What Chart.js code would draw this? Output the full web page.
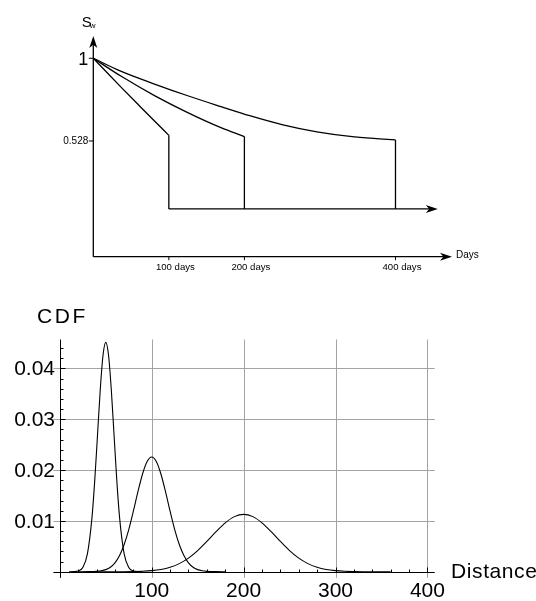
<!DOCTYPE html>
<html>
<head>
<meta charset="utf-8">
<script src="https://cdn.jsdelivr.net/npm/chart.js@4/dist/chart.umd.min.js"></script>
<style>
  html, body { margin: 0; padding: 0; background: #fff; width: 536px; height: 601px; overflow: hidden; }
  #top { position: absolute; left: 0; top: 0; width: 536px; height: 290px; }
  #bottom { position: absolute; left: 0; top: 290px; width: 536px; height: 311px; }
</style>
</head>
<body>
<div id="top"><canvas id="sw"></canvas></div>
<div id="bottom"><canvas id="cdf"></canvas></div>
<script>
// ---- Water saturation decline for three durations (days, S_w) ----
const swDays100 = [0, 37, 63.5, 81, 100];
const swVals100 = [1, 0.834, 0.718, 0.642, 0.56];
const swDays200 = [0, 37, 81, 125, 169, 200];
const swVals200 = [1, 0.897, 0.787, 0.690, 0.604, 0.553];
const swDays400 = [0, 37, 81, 125, 169, 207, 251, 296, 340, 384, 400];
const swVals400 = [1, 0.925, 0.853, 0.786, 0.724, 0.672, 0.620, 0.580, 0.554, 0.539, 0.534];
const swFloor = 0.14;          // level after each drop
const swFloorEnd = 456;        // floor line runs out to here (days)
const swTickDays = [100, 200, 400];
const swTickDayLabels = ['100 days', '200 days', '400 days'];
const swTickValues = [0.528, 1];
const swTickValueLabels = ['0.528', '1'];

// ---- Distance distributions ----
const distA = [10, 15, 20, 25, 30, 35, 38, 41, 44, 47, 50, 53, 56, 59, 62, 65, 70, 75, 80, 85, 90];
const cdfA  = [0, 0.00002, 0.00014, 0.00083, 0.00349, 0.0107, 0.01797, 0.02689, 0.03586, 0.04261, 0.04514,
               0.04261, 0.03586, 0.02689, 0.01797, 0.0107, 0.00349, 0.00083, 0.00014, 0.00002, 0];
const distB = [20, 30, 40, 45, 50, 55, 60, 65, 70, 75, 80, 85, 90, 95, 100, 105, 110, 115, 120, 125, 130,
               135, 140, 145, 150, 155, 160, 170, 180];
const cdfB  = [0, 0.00001, 0.00007, 0.00018, 0.00041, 0.00088, 0.00175, 0.00318, 0.00535, 0.0083, 0.0119,
               0.01575, 0.01923, 0.02168, 0.02257, 0.02168, 0.01923, 0.01575, 0.0119, 0.0083, 0.00535,
               0.00318, 0.00175, 0.00088, 0.00041, 0.00018, 0.00007, 0.00001, 0];
const distC = [40, 60, 80, 90, 100, 110, 120, 130, 140, 150, 160, 170, 180, 190, 200, 210, 220, 230, 240,
               250, 260, 270, 280, 290, 300, 310, 320, 340, 360];
const cdfC  = [0, 0, 0.00004, 0.00009, 0.00021, 0.00044, 0.00087, 0.00159, 0.00267, 0.00415, 0.00595,
               0.00787, 0.00961, 0.01084, 0.01128, 0.01084, 0.00961, 0.00787, 0.00595, 0.00415, 0.00267,
               0.00159, 0.00087, 0.00044, 0.00021, 0.00009, 0.00004, 0, 0];
const distTicks = [100, 200, 300, 400];
const distTickLabels = ['100', '200', '300', '400'];
const cdfTicks = [0.01, 0.02, 0.03, 0.04];
const cdfTickLabels = ['0.01', '0.02', '0.03', '0.04'];

const FONT = '"Liberation Sans", Arial, Helvetica, sans-serif';

function pts(xs, ys) { return xs.map((x, i) => ({ x: x, y: ys[i] })); }

function arrowHead(ctx, tipX, tipY, dx, dy, len, half) {
  const bx = tipX - dx * len, by = tipY - dy * len;
  const nx = -dy, ny = dx;
  const mx = tipX - dx * len * 0.72, my = tipY - dy * len * 0.72;
  ctx.beginPath();
  ctx.moveTo(tipX, tipY);
  ctx.lineTo(bx + nx * half, by + ny * half);
  ctx.lineTo(mx, my);
  ctx.lineTo(bx - nx * half, by - ny * half);
  ctx.closePath();
  ctx.fill();
}

const curveStyle = {
  borderColor: '#000', borderWidth: 1.3, pointRadius: 0, showLine: true,
  cubicInterpolationMode: 'monotone', clip: false
};
const straightStyle = {
  borderColor: '#000', borderWidth: 1.3, pointRadius: 0, showLine: true, tension: 0, clip: false
};

function last(a) { return a[a.length - 1]; }

// ---------------- S_w chart ----------------
const swAxes = {
  id: 'swAxes',
  afterDatasetsDraw(chart) {
    const ctx = chart.ctx, a = chart.chartArea;
    const xs = chart.scales.x, ys = chart.scales.y;
    ctx.save();
    ctx.strokeStyle = '#000';
    ctx.fillStyle = '#000';
    ctx.lineWidth = 1.3;
    // axes
    ctx.beginPath();
    ctx.moveTo(a.left, a.bottom);
    ctx.lineTo(a.right - 6, a.bottom);
    ctx.moveTo(a.left, a.bottom);
    ctx.lineTo(a.left, a.top + 6);
    ctx.stroke();
    arrowHead(ctx, a.right, a.bottom, 1, 0, 12, 4);
    arrowHead(ctx, a.left, a.top, 0, -1, 12, 4);
    // arrow on the floor line
    arrowHead(ctx, xs.getPixelForValue(swFloorEnd), ys.getPixelForValue(swFloor), 1, 0, 12, 4);

    // ticks
    ctx.lineWidth = 1;
    ctx.beginPath();
    swTickValues.forEach(v => {
      const y = ys.getPixelForValue(v);
      ctx.moveTo(a.left - 4.5, y); ctx.lineTo(a.left, y);
    });
    swTickDays.forEach(d => {
      const x = xs.getPixelForValue(d);
      ctx.moveTo(x, a.bottom); ctx.lineTo(x, a.bottom + 3.5);
    });
    ctx.stroke();

    // labels
    ctx.textBaseline = 'middle';
    ctx.textAlign = 'right';
    swTickValues.forEach((v, i) => {
      const y = ys.getPixelForValue(v);
      ctx.font = (v === 1 ? '18px ' : '10px ') + FONT;
      ctx.fillText(swTickValueLabels[i], a.left - 5, y + (v === 1 ? 1.5 : 0.5));
    });
    ctx.textAlign = 'center';
    ctx.font = '9.6px ' + FONT;
    swTickDays.forEach((d, i) => {
      ctx.fillText(swTickDayLabels[i], xs.getPixelForValue(d) + 6.5, a.bottom + 10.5);
    });
    ctx.textAlign = 'left';
    ctx.font = '10px ' + FONT;
    ctx.fillText('Days', a.right + 4, a.bottom - 1.5);
    // S_w
    ctx.textBaseline = 'alphabetic';
    ctx.font = '15px ' + FONT;
    ctx.fillText('S', a.left - 11.5, a.top - 9.5);
    ctx.font = '8px ' + FONT;
    ctx.fillText('w', a.left - 3.5, a.top - 8.5);
    ctx.restore();
  }
};

new Chart(document.getElementById('sw'), {
  type: 'scatter',
  data: {
    datasets: [
      Object.assign({ data: pts(swDays100, swVals100) }, curveStyle),
      Object.assign({ data: pts(swDays200, swVals200) }, curveStyle),
      Object.assign({ data: pts(swDays400, swVals400) }, curveStyle),
      Object.assign({ data: [{ x: last(swDays100), y: last(swVals100) }, { x: last(swDays100), y: swFloor }] }, straightStyle),
      Object.assign({ data: [{ x: last(swDays200), y: last(swVals200) }, { x: last(swDays200), y: swFloor }] }, straightStyle),
      Object.assign({ data: [{ x: last(swDays400), y: last(swVals400) }, { x: last(swDays400), y: swFloor }] }, straightStyle),
      Object.assign({ data: [{ x: swTickDays[0], y: swFloor }, { x: swFloorEnd - 8, y: swFloor }] }, straightStyle)
    ]
  },
  options: {
    responsive: true, maintainAspectRatio: false, animation: false, events: [],
    layout: { padding: { left: 93.3, right: 84, top: 36, bottom: 33.3 } },
    plugins: { legend: { display: false }, tooltip: { enabled: false } },
    scales: {
      x: { type: 'linear', display: false, min: 0, max: 474.8 },
      y: { type: 'linear', display: false, min: -0.1324, max: 1.127 }
    }
  },
  plugins: [swAxes]
});

// ---------------- distance distribution chart ----------------
const cdfAxes = {
  id: 'cdfAxes',
  beforeDatasetsDraw(chart) {
    const ctx = chart.ctx, a = chart.chartArea;
    const xs = chart.scales.x, ys = chart.scales.y;
    ctx.save();
    ctx.strokeStyle = '#a3a3a3';
    ctx.lineWidth = 1;
    ctx.beginPath();
    distTicks.forEach(d => {
      const x = Math.round(xs.getPixelForValue(d)) + 0.5;
      ctx.moveTo(x, a.top); ctx.lineTo(x, a.bottom);
    });
    cdfTicks.forEach(v => {
      const y = Math.round(ys.getPixelForValue(v)) + 0.5;
      ctx.moveTo(a.left, y); ctx.lineTo(a.right, y);
    });
    ctx.stroke();
    ctx.restore();
  },
  afterDatasetsDraw(chart) {
    const ctx = chart.ctx, a = chart.chartArea;
    const xs = chart.scales.x, ys = chart.scales.y;
    const x0 = Math.round(xs.getPixelForValue(0)) + 0.5;
    const y0 = Math.round(ys.getPixelForValue(0)) + 0.5;
    ctx.save();
    ctx.strokeStyle = '#000';
    ctx.fillStyle = '#000';
    ctx.lineWidth = 1;
    ctx.beginPath();
    ctx.moveTo(a.left, y0); ctx.lineTo(a.right, y0);
    ctx.moveTo(x0, a.top); ctx.lineTo(x0, a.bottom);
    // minor and major ticks on the distance axis
    for (let d = 20; d <= 400; d += 20) {
      const x = Math.round(xs.getPixelForValue(d)) + 0.5;
      const len = d % 100 === 0 ? 5 : 3;
      ctx.moveTo(x, y0); ctx.lineTo(x, y0 - len);
    }
    // minor and major ticks on the value axis
    for (let k = 1; k <= 22; k++) {
      const y = Math.round(ys.getPixelForValue(k * 0.002)) + 0.5;
      const len = k % 5 === 0 ? 5 : 3;
      ctx.moveTo(x0, y); ctx.lineTo(x0 + len, y);
    }
    ctx.stroke();

    ctx.font = '21px ' + FONT;
    ctx.textBaseline = 'middle';
    ctx.textAlign = 'center';
    distTicks.forEach((d, i) => ctx.fillText(distTickLabels[i], xs.getPixelForValue(d), y0 + 19));
    ctx.textAlign = 'right';
    cdfTicks.forEach((v, i) => ctx.fillText(cdfTickLabels[i], x0 - 5.5, ys.getPixelForValue(v) + 1));

    ctx.textAlign = 'left';
    if ('letterSpacing' in ctx) ctx.letterSpacing = '2.6px';
    ctx.fillText('CDF', 37, 27);
    if ('letterSpacing' in ctx) ctx.letterSpacing = '0.6px';
    ctx.fillText('Distance', 451, y0);
    ctx.restore();
  }
};

const thin = {
  borderColor: '#000', borderWidth: 1.1, pointRadius: 0, showLine: true,
  cubicInterpolationMode: 'monotone', clip: false
};

new Chart(document.getElementById('cdf'), {
  type: 'scatter',
  data: {
    datasets: [
      Object.assign({ data: pts(distA, cdfA) }, thin),
      Object.assign({ data: pts(distB, cdfB) }, thin),
      Object.assign({ data: pts(distC, cdfC) }, thin)
    ]
  },
  options: {
    responsive: true, maintainAspectRatio: false, animation: false, events: [],
    layout: { padding: { left: 53.4, right: 101.25, top: 49.5, bottom: 23.2 } },
    plugins: { legend: { display: false }, tooltip: { enabled: false } },
    scales: {
      x: { type: 'linear', display: false, min: -7, max: 408 },
      y: { type: 'linear', display: false, min: -0.0012, max: 0.0457 }
    }
  },
  plugins: [cdfAxes]
});
</script>
</body>
</html>
